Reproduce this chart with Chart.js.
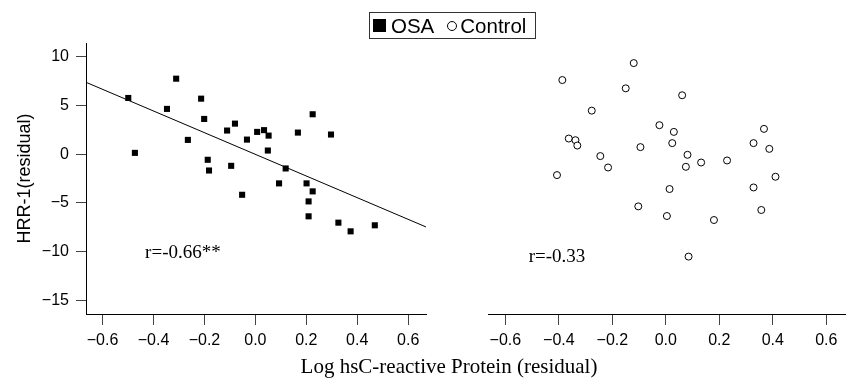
<!DOCTYPE html>
<html lang="en">
<head>
<meta charset="UTF-8">
<title>HRR-1 vs Log hsC-reactive Protein</title>
<script src="https://cdn.jsdelivr.net/npm/chart.js"></script>
<style>
    html, body { margin: 0; padding: 0; background: #fff; }
    #wrap { position: relative; width: 854px; height: 381px; }
    #wrap canvas { position: absolute; left: 0; top: 0; }
    #right { pointer-events: none; }
    #legend {
        position: absolute; left: 369px; top: 12px; width: 165px; height: 25px;
        border: 1px solid #333; display: flex; align-items: center;
        font-family: "Liberation Sans", Arial, sans-serif; font-size: 20.5px; color: #000;
    }
    #legend .sq { width: 13px; height: 13px; background: #000; margin-left: 3px; margin-right: 5px; }
    #legend .ci { width: 8px; height: 8px; border: 1px solid #000; border-radius: 50%; margin-left: 13px; margin-right: 3px; }
</style>
</head>
<body>
<div id="wrap">
    <canvas id="left" width="854" height="381"></canvas>
    <canvas id="right" width="854" height="381"></canvas>
    <div id="legend"><span class="sq"></span><span>OSA</span><span class="ci"></span><span>Control</span></div>
</div>
<script>
// values
const osaX = [-0.499, -0.473, -0.311, -0.347, -0.265, -0.213, -0.201, -0.187, -0.182, -0.111,
              -0.095, -0.080, -0.033, 0.007, 0.034, 0.052, 0.049, -0.052, 0.093, 0.119,
              0.167, 0.225, 0.297, 0.201, 0.225, 0.209, 0.209, 0.326, 0.374, 0.469];
const osaY = [5.76, 0.13, 7.74, 4.64, 1.46, 5.69, 3.61, -0.58, -1.68, 2.42,
              -1.2, 3.13, 1.49, 2.28, 2.46, 1.9, 0.37, -4.17, -3.0, -1.47,
              2.21, 4.09, 2.01, -3.0, -3.82, -4.85, -6.38, -7.03, -7.92, -7.3];
const ctrlX = [-0.12, -0.387, -0.15, 0.061, -0.277, -0.024, 0.03, 0.367, -0.363, -0.338,
               -0.331, -0.095, 0.024, 0.328, 0.387, -0.245, -0.216, 0.081, 0.075, 0.132,
               0.229, -0.407, 0.41, 0.014, 0.328, -0.103, 0.004, 0.18, 0.357, 0.085];
const ctrlY = [9.34, 7.6, 6.75, 6.04, 4.46, 2.97, 2.28, 2.59, 1.6, 1.43,
               0.88, 0.72, 1.13, 1.13, 0.54, -0.2, -1.37, -0.07, -1.3, -0.86,
               -0.65, -2.15, -2.32, -3.58, -3.42, -5.36, -6.35, -6.76, -5.73, -10.51];
const fitX = [-0.665, 0.67];
const fitY = [7.37, -7.47];
const xTicks = [-0.6, -0.4, -0.2, 0.0, 0.2, 0.4, 0.6];
const yTicks = [-15, -10, -5, 0, 5, 10];
const xRange = [-0.665, 0.67];
const yRange = [-16.4, 11.4];

const sans = '"Liberation Sans", Arial, sans-serif';
const serif = '"Liberation Serif", "Times New Roman", serif';
const toPts = (xs, ys) => xs.map((x, i) => ({ x: x, y: ys[i] }));
const minus = s => s.replace('-', '\u2212');

function xScale() {
    return {
        type: 'linear', min: xRange[0], max: xRange[1],
        afterBuildTicks: s => { s.ticks = xTicks.map(v => ({ value: v })); },
        afterFit: s => { s.height = 67; },
        grid: { drawOnChartArea: false, drawTicks: true, tickLength: 11, tickColor: '#444' },
        border: { display: true, color: '#000', width: 1 },
        ticks: { color: '#000', padding: 6, font: { family: sans, size: 16 },
                 maxRotation: 0, autoSkip: false,
                 callback: v => minus(v.toFixed(1)) }
    };
}

function yScale(show) {
    return {
        type: 'linear', display: show, min: yRange[0], max: yRange[1],
        afterBuildTicks: s => { s.ticks = yTicks.map(v => ({ value: v })); },
        afterFit: s => { s.width = show ? 86 : 0; },
        grid: { drawOnChartArea: false, drawTicks: true, tickLength: 10, tickColor: '#444' },
        border: { display: true, color: '#000', width: 1 },
        ticks: { color: '#000', padding: 7, font: { family: sans, size: 16 },
                 callback: v => minus(String(v)) },
        title: { display: show, text: 'HRR-1(residual)', color: '#000',
                 font: { family: sans, size: 18 }, padding: { top: 14, bottom: 0 } }
    };
}

// r-value text placed in data coordinates, x title across both panels
const notes = {
    id: 'notes',
    afterDraw(chart, args, opts) {
        const c = chart.ctx;
        c.save();
        c.fillStyle = '#000';
        c.textBaseline = 'alphabetic';
        c.textAlign = 'left';
        c.font = '19px ' + serif;
        c.fillText(opts.text, chart.scales.x.getPixelForValue(opts.x), chart.scales.y.getPixelForValue(opts.y));
        if (opts.title) {
            c.textAlign = 'center';
            c.font = '21px ' + serif;
            c.fillText(opts.title, 449, 373);
        }
        c.restore();
    }
};

new Chart(document.getElementById('left'), {
    type: 'scatter',
    data: {
        datasets: [{
            label: 'OSA',
            data: toPts(osaX, osaY),
            pointStyle: 'rect', pointRadius: 4.3, pointHoverRadius: 4.3,
            backgroundColor: '#000', borderColor: '#000', borderWidth: 0
        }, {
            type: 'line',
            label: 'fit',
            data: toPts(fitX, fitY),
            borderColor: '#000', borderWidth: 1, pointRadius: 0, fill: false
        }]
    },
    options: {
        responsive: false, animation: false,
        layout: { padding: { left: 0, right: 428, top: 43, bottom: 0 } },
        plugins: { legend: { display: false }, tooltip: { enabled: false },
                   notes: { text: 'r=-0.66**', x: -0.433, y: -10.7 } },
        scales: { x: xScale(), y: yScale(true) }
    },
    plugins: [notes]
});

new Chart(document.getElementById('right'), {
    type: 'scatter',
    data: {
        datasets: [{
            label: 'Control',
            data: toPts(ctrlX, ctrlY),
            pointStyle: 'circle', pointRadius: 3.5, pointHoverRadius: 3.5,
            backgroundColor: '#fff', borderColor: '#000', borderWidth: 1
        }]
    },
    options: {
        responsive: false, animation: false,
        layout: { padding: { left: 488, right: 9, top: 43, bottom: 0 } },
        plugins: { legend: { display: false }, tooltip: { enabled: false },
                   notes: { text: 'r=-0.33', x: -0.513, y: -11.1,
                            title: 'Log hsC-reactive Protein (residual)' } },
        scales: { x: xScale(), y: yScale(false) }
    },
    plugins: [notes]
});
</script>
</body>
</html>
